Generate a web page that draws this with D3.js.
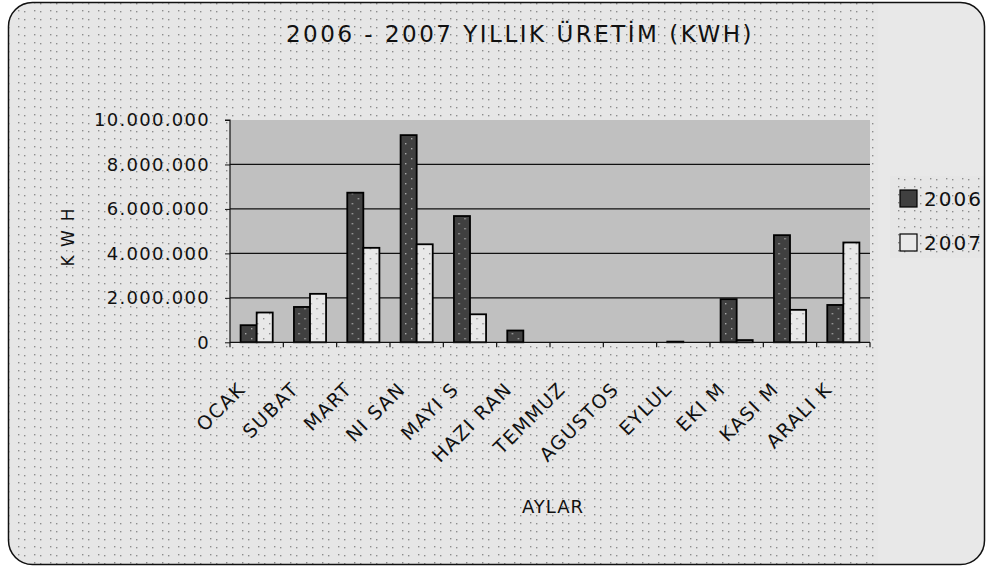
<!DOCTYPE html>
<html>
<head>
<meta charset="utf-8">
<script src="https://cdn.jsdelivr.net/npm/d3@7"></script>
<style>
  html, body { margin: 0; padding: 0; background: #fff; }
  svg { display: block; }
</style>
</head>
<body>
<svg id="chart" width="987" height="568"></svg>
<script>
const months = ['OCAK', 'SUBAT', 'MART', 'NISAN', 'MAYIS', 'HAZIRAN', 'TEMMUZ', 'AGUSTOS', 'EYLUL', 'EKIM', 'KASIM', 'ARALIK'];
const monthLabels = ['OCAK', 'SUBAT', 'MART', 'NI SAN', 'MAYI S', 'HAZI RAN', 'TEMMUZ', 'AGUSTOS', 'EYLUL', 'EKI M', 'KASI M', 'ARALI K'];
const seriesNames = ['2006', '2007'];
const values2006 = [770000, 1590000, 6730000, 9320000, 5680000, 530000, 0, 0, 30000, 1940000, 4820000, 1680000];
const values2007 = [1340000, 2180000, 4250000, 4410000, 1260000, 0, 0, 0, 0, 100000, 1460000, 4490000];
const yTicks = [0, 2000000, 4000000, 6000000, 8000000, 10000000];

const svg = d3.select('#chart');
const W = 987, H = 568;
const plot = { left: 230, right: 870, top: 120, bottom: 342.3 };
const fills = { '2006': '#404040', '2007': '#e8e8e8' };
const font = 'DejaVu Sans';

// dotted backgrounds
const defs = svg.append('defs');
const bgPat = defs.append('pattern').attr('id', 'dots').attr('patternUnits', 'userSpaceOnUse')
  .attr('width', 16).attr('height', 8);
bgPat.append('rect').attr('width', 16).attr('height', 8).attr('fill', '#e6e6e6');
[[2, 2], [8, 3]].forEach(([x, y]) =>
  bgPat.append('rect').attr('x', x).attr('y', y).attr('width', 1.4).attr('height', 1.4).attr('fill', '#8c8c8c'));

const barPat = (id, base, dot) => {
  const p = defs.append('pattern').attr('id', id).attr('patternUnits', 'userSpaceOnUse')
    .attr('width', 12).attr('height', 10);
  p.append('rect').attr('width', 12).attr('height', 10).attr('fill', base);
  [[3, 3], [9, 8]].forEach(([x, y]) =>
    p.append('rect').attr('x', x).attr('y', y).attr('width', 1.4).attr('height', 1.4).attr('fill', dot));
  return `url(#${id})`;
};
const barFill = { '2006': barPat('p06', fills['2006'], '#a8a8a8'), '2007': barPat('p07', fills['2007'], '#909090') };

const clip = defs.append('clipPath').attr('id', 'frame');
clip.append('rect').attr('x', 8).attr('y', 2).attr('width', 977).attr('height', 563).attr('rx', 24);

const bg = svg.append('g').attr('clip-path', 'url(#frame)');
bg.append('rect').attr('x', 0).attr('y', 0).attr('width', W).attr('height', H).attr('fill', '#e8e8e8');
bg.append('rect').attr('x', 0).attr('y', 0).attr('width', 878).attr('height', H).attr('fill', 'url(#dots)');
bg.append('rect').attr('x', 890).attr('y', 176).attr('width', 95).attr('height', 82).attr('fill', 'url(#dots)');

svg.append('rect').attr('x', 8.5).attr('y', 2.5).attr('width', 976).attr('height', 562).attr('rx', 24)
  .attr('fill', 'none').attr('stroke', '#111').attr('stroke-width', 1.5);

// scales
const x = d3.scaleBand().domain(months).range([plot.left, plot.right]).paddingInner(0).paddingOuter(0);
const x1 = d3.scaleBand().domain(seriesNames).range([0, x.bandwidth()]).paddingInner(0).paddingOuter(0.66);
const y = d3.scaleLinear().domain([0, 10000000]).range([plot.bottom, plot.top]);

svg.append('rect').attr('x', plot.left).attr('y', plot.top)
  .attr('width', plot.right - plot.left).attr('height', plot.bottom - plot.top).attr('fill', '#c0c0c0');

svg.append('g').selectAll('line').data(yTicks.slice(1, -1)).join('line')
  .attr('x1', plot.left).attr('x2', plot.right).attr('y1', d => y(d)).attr('y2', d => y(d))
  .attr('stroke', '#111').attr('stroke-width', 1.2);

// bars
const rows = months.map((m, i) => ({ m, vals: [values2006[i], values2007[i]] }));
const groups = svg.append('g').selectAll('g').data(rows).join('g')
  .attr('transform', d => `translate(${x(d.m)},0)`);
groups.selectAll('rect').data(d => d.vals.map((v, i) => ({ s: seriesNames[i], v })).filter(d => d.v > 0))
  .join('rect')
  .attr('x', d => x1(d.s)).attr('width', x1.bandwidth())
  .attr('y', d => y(d.v)).attr('height', d => y(0) - y(d.v))
  .attr('fill', d => barFill[d.s]).attr('stroke', '#000').attr('stroke-width', 1.8);

// y axis
const yAxis = svg.append('g').attr('transform', `translate(${plot.left},0)`)
  .call(d3.axisLeft(y).tickValues(yTicks).tickSize(5).tickPadding(15)
    .tickFormat(d => d3.format(',')(d).replace(/,/g, '.')));
yAxis.select('.domain').attr('stroke', '#111').attr('stroke-width', 1.2).attr('d', `M-5,${plot.top}H0V${plot.bottom}`);
yAxis.selectAll('.tick line').attr('stroke', '#111');
yAxis.selectAll('text').attr('fill', '#111').style('font-family', font).style('font-size', '18px')
  .style('letter-spacing', '1.3px');

// x axis
const xAxis = svg.append('g').attr('transform', `translate(0,${plot.bottom})`)
  .call(d3.axisBottom(x).tickSize(0).tickFormat(''));
xAxis.select('.domain').attr('stroke', '#111').attr('stroke-width', 1.2).attr('d', `M${plot.left},0H${plot.right}`);
svg.append('g').selectAll('line').data(months.concat(['end'])).join('line')
  .attr('x1', (d, i) => plot.left + i * x.bandwidth()).attr('x2', (d, i) => plot.left + i * x.bandwidth())
  .attr('y1', plot.bottom).attr('y2', plot.bottom + 5).attr('stroke', '#111').attr('stroke-width', 1.2);

svg.append('g').selectAll('text').data(months).join('text')
  .attr('transform', d => `translate(${x(d) + x.bandwidth() / 2 - 10},${plot.bottom + 48}) rotate(-45)`)
  .attr('text-anchor', 'end')
  .style('font-family', font).style('font-size', '19px').style('letter-spacing', '1.5px').attr('fill', '#111')
  .text((d, i) => monthLabels[i]);

// titles
svg.append('text').attr('x', 520).attr('y', 42).attr('text-anchor', 'middle')
  .style('font-family', font).style('font-size', '23px').style('letter-spacing', '2.5px').attr('fill', '#111')
  .text('2006 - 2007 YILLIK ÜRETİM (KWH)');
svg.append('text').attr('transform', 'translate(74,233) rotate(-90)').attr('text-anchor', 'middle')
  .style('font-family', font).style('font-size', '17px').style('letter-spacing', '9px').attr('fill', '#111')
  .text('KWH');
svg.append('text').attr('x', 553).attr('y', 513).attr('text-anchor', 'middle')
  .style('font-family', font).style('font-size', '18px').style('letter-spacing', '1px').attr('fill', '#111')
  .text('AYLAR');

// legend
const legend = svg.append('g').selectAll('g').data(seriesNames).join('g')
  .attr('transform', (d, i) => `translate(900,${190 + i * 44})`);
legend.append('rect').attr('width', 17).attr('height', 17)
  .attr('fill', d => fills[d]).attr('stroke', '#000').attr('stroke-width', 1.2);
legend.append('text').attr('x', 24).attr('y', 16)
  .style('font-family', font).style('font-size', '20px').style('letter-spacing', '2px').attr('fill', '#111')
  .text(d => d);
</script>
</body>
</html>
